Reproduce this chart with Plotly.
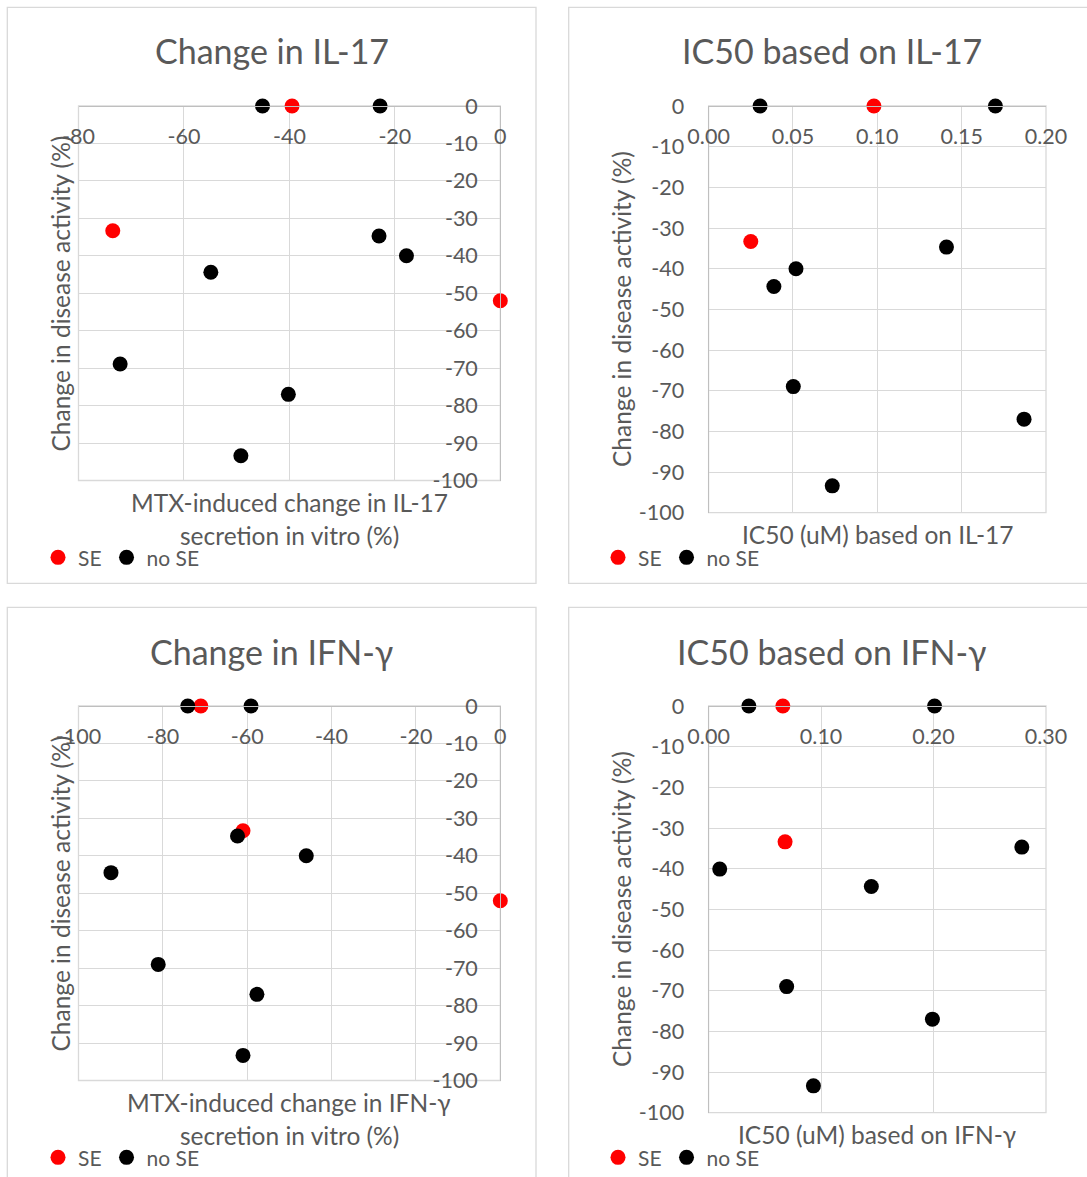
import plotly.graph_objects as go

W, H = 1087, 1177


def px(x):
    return x / W


def py(y):
    return 1 - y / H


# ---------------- data ----------------
# Panel 1: change in IL-17 vs change in disease activity
il17_se_x = [-39.5, -73.5, 0.0]
il17_se_y = [0.0, -33.3, -52.0]
il17_nose_x = [-45.1, -22.8, -23.0, -17.8, -54.9, -72.1, -40.2, -49.2]
il17_nose_y = [0.0, 0.0, -34.7, -40.0, -44.4, -68.9, -77.0, -93.4]

# Panel 2: IC50 based on IL-17
ic50il17_se_x = [0.098, 0.025]
ic50il17_se_y = [0.0, -33.3]
ic50il17_nose_x = [0.0305, 0.170, 0.141, 0.0518, 0.0387, 0.0502, 0.187, 0.0733]
ic50il17_nose_y = [0.0, 0.0, -34.7, -40.0, -44.4, -69.0, -77.0, -93.4]

# Panel 3: change in IFN-gamma
ifn_se_x = [-71.0, -61.0, 0.0]
ifn_se_y = [0.0, -33.3, -52.0]
ifn_nose_x = [-74.1, -59.1, -62.3, -46.0, -92.3, -81.1, -57.7, -61.0]
ifn_nose_y = [0.0, 0.0, -34.7, -40.0, -44.5, -69.0, -77.0, -93.3]

# Panel 4: IC50 based on IFN-gamma
ic50ifn_se_x = [0.066, 0.068]
ic50ifn_se_y = [0.0, -33.4]
ic50ifn_nose_x = [0.0358, 0.2009, 0.2785, 0.0099, 0.1447, 0.0694, 0.199, 0.0932]
ic50ifn_nose_y = [0.0, 0.0, -34.7, -40.1, -44.4, -69.0, -77.0, -93.4]

# tick values / labels
y_tickvals = [0, -10, -20, -30, -40, -50, -60, -70, -80, -90, -100]
y_ticktext = ["0", "-10", "-20", "-30", "-40", "-50", "-60", "-70", "-80", "-90", "-100"]
il17_x_tickvals = [-80, -60, -40, -20, 0]
il17_x_ticktext = ["-80", "-60", "-40", "-20", "0"]
ic50il17_x_tickvals = [0.0, 0.05, 0.10, 0.15, 0.20]
ic50il17_x_ticktext = ["0.00", "0.05", "0.10", "0.15", "0.20"]
ifn_x_tickvals = [-100, -80, -60, -40, -20, 0]
ifn_x_ticktext = ["-100", "-80", "-60", "-40", "-20", "0"]
ic50ifn_x_tickvals = [0.0, 0.10, 0.20, 0.30]
ic50ifn_x_ticktext = ["0.00", "0.10", "0.20", "0.30"]

titles = ["Change in IL-17", "IC50 based on IL-17",
          "Change in IFN-γ", "IC50 based on IFN-γ"]
x_titles = [["MTX-induced change in IL-17", "secretion in vitro (%)"],
            ["IC50 (uM) based on IL-17"],
            ["MTX-induced change in IFN-γ", "secretion in vitro (%)"],
            ["IC50 (uM) based on IFN-γ"]]
y_title = "Change in disease activity (%)"
series_names = ["SE", "no SE"]

# ---------------- style ----------------
FONT = "Lato"
GRAY = "#595959"
GRID = "#D9D9D9"
AXLINE = "#BFBFBF"
RED = "#FF0000"
BLACK = "#000000"
TICK_SIZE = 21.5
TITLE_SIZE = 34
AXT_SIZE = 24.5
LEG_SIZE = 21
MSIZE = 15

# pixel geometry of each panel: plot area (x0, x1, ytop, ybottom), frame, legend
panels = [
    dict(data=(il17_se_x, il17_se_y, il17_nose_x, il17_nose_y),
         xr=[-80, 0], xticks=(il17_x_tickvals, il17_x_ticktext), yaxis_at_right=True,
         area=(78.5, 500.3, 106, 480.5), frame=(7.3, 536, 7.3, 583.3),
         title_y=51, xt_y=[502.3, 535.7], leg=(58, 557.7)),
    dict(data=(ic50il17_se_x, ic50il17_se_y, ic50il17_nose_x, ic50il17_nose_y),
         xr=[0, 0.20], xticks=(ic50il17_x_tickvals, ic50il17_x_ticktext), yaxis_at_right=False,
         area=(708.6, 1046, 106, 512.7), frame=(568.7, 1096, 7.3, 583.3),
         title_y=51, xt_y=[534.3], leg=(618, 557.7)),
    dict(data=(ifn_se_x, ifn_se_y, ifn_nose_x, ifn_nose_y),
         xr=[-100, 0], xticks=(ifn_x_tickvals, ifn_x_ticktext), yaxis_at_right=True,
         area=(78.5, 500.3, 706, 1080.5), frame=(7.3, 536, 607.3, 1190),
         title_y=651, xt_y=[1102.3, 1135.7], leg=(58, 1157.7)),
    dict(data=(ic50ifn_se_x, ic50ifn_se_y, ic50ifn_nose_x, ic50ifn_nose_y),
         xr=[0, 0.30], xticks=(ic50ifn_x_tickvals, ic50ifn_x_ticktext), yaxis_at_right=False,
         area=(708.6, 1046, 706, 1112.7), frame=(568.7, 1096, 607.3, 1190),
         title_y=651, xt_y=[1134.3], leg=(618, 1157.7)),
]

fig = go.Figure()
shapes = []
annotations = []
layout_axes = {}

for i, p in enumerate(panels):
    n = i + 1
    sfx = "" if n == 1 else str(n)
    xa, ya = "x" + sfx, "y" + sfx
    leg = "legend" + sfx
    sx, sy, nx, ny = p["data"]
    fig.add_trace(go.Scatter(x=sx, y=sy, mode="markers", name=series_names[0],
                             marker=dict(color=RED, size=MSIZE, line=dict(width=0)),
                             xaxis=xa, yaxis=ya, legend=leg, cliponaxis=False))
    fig.add_trace(go.Scatter(x=nx, y=ny, mode="markers", name=series_names[1],
                             marker=dict(color=BLACK, size=MSIZE, line=dict(width=0)),
                             xaxis=xa, yaxis=ya, legend=leg, cliponaxis=False))

    x0, x1, yt, yb = p["area"]
    common = dict(showgrid=True, gridcolor=GRID, gridwidth=1.3, showline=True,
                  linecolor=AXLINE, linewidth=1.3, zeroline=False, ticks="",
                  tickmode="array",
                  tickfont=dict(family=FONT, size=TICK_SIZE, color=GRAY))
    tv, tt = p["xticks"]
    layout_axes["xaxis" + sfx] = dict(
        common, domain=[px(x0), px(x1)], range=p["xr"], tickvals=tv, ticktext=tt,
        side="bottom", anchor="free", position=py(yt), ticklabelstandoff=11)
    ydict = dict(common, domain=[py(yb), py(yt)], range=[-100, 0],
                 tickvals=y_tickvals, ticktext=y_ticktext,
                 side="left", ticklabelstandoff=18)
    if p["yaxis_at_right"]:
        ydict.update(anchor="free", position=px(x1))
    else:
        ydict.update(anchor=xa, ticklabelstandoff=19)
    layout_axes["yaxis" + sfx] = ydict

    # plot-area frame (light grey, under the axis lines)
    shapes.append(dict(type="rect", xref=xa + " domain", yref=ya + " domain",
                       x0=0, x1=1, y0=0, y1=1,
                       line=dict(color=GRID, width=1.3), layer="below"))

    fx0, fx1, fy0, fy1 = p["frame"]
    shapes.append(dict(type="rect", xref="paper", yref="paper",
                       x0=px(fx0), x1=px(fx1), y0=py(fy1), y1=py(fy0),
                       line=dict(color=GRID, width=1.3), layer="below"))

    cx = (fx0 + fx1) / 2
    annotations.append(dict(text=titles[i], xref="paper", yref="paper",
                            x=px(cx), y=py(p["title_y"]), xanchor="center",
                            yanchor="middle", showarrow=False,
                            font=dict(family=FONT, size=TITLE_SIZE, color=GRAY)))
    for line_text, ly in zip(x_titles[i], p["xt_y"]):
        annotations.append(dict(text=line_text, xref="paper", yref="paper",
                                x=px((x0 + x1) / 2), y=py(ly), xanchor="center",
                                yanchor="middle", showarrow=False,
                                font=dict(family=FONT, size=AXT_SIZE, color=GRAY)))
    annotations.append(dict(text=y_title, xref="paper", yref="paper",
                            x=px(fx0 + 53), y=py((yt + yb) / 2), xanchor="center",
                            yanchor="middle", textangle=-90, showarrow=False,
                            font=dict(family=FONT, size=AXT_SIZE, color=GRAY)))

    lx, lyy = p["leg"]
    layout_axes[leg] = dict(orientation="h", x=px(lx - 20), y=py(lyy),
                            xanchor="left", yanchor="middle",
                            bgcolor="rgba(0,0,0,0)", borderwidth=0,
                            font=dict(family=FONT, size=LEG_SIZE, color=GRAY),
                            itemwidth=30, tracegroupgap=0)

fig.update_layout(
    width=W, height=H,
    margin=dict(l=0, r=0, t=0, b=0, pad=0, autoexpand=False),
    paper_bgcolor="white", plot_bgcolor="white", showlegend=True,
    shapes=shapes, annotations=annotations,
    font=dict(family=FONT, color=GRAY),
    **layout_axes,
)

fig.write_html("out.html", config={"displayModeBar": False},
               post_script="document.body.style.margin='0';document.body.style.overflow='hidden';")
